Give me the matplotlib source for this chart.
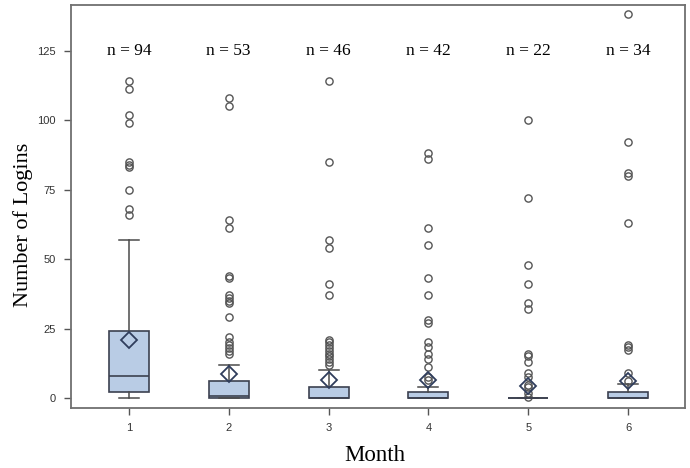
import matplotlib
matplotlib.use("Agg")
import matplotlib.pyplot as plt

months = [1, 2, 3, 4, 5, 6]
n_labels = ["n = 94", "n = 53", "n = 46", "n = 42", "n = 22", "n = 34"]
q1 = [2, 0, 0, 0, 0, 0]
medians = [8, 0.7, 0, 0, 0, 0]
q3 = [24, 6, 4, 2, 0, 2]
whisker_lo = [0, 0, 0, 0, 0, 0]
whisker_hi = [57, 12, 10, 4, 0, 5]
means = [21, 8.7, 6.5, 6.4, 4.4, 6]

fliers_m1 = [114, 111, 102, 99, 85, 84, 83, 75, 68, 66]
fliers_m2 = [108, 105, 64, 61, 44, 43, 37, 36, 35, 34, 29, 22, 20, 19, 18, 17, 16]
fliers_m3 = [114, 85, 57, 54, 41, 37, 21, 20, 19, 18, 17, 16, 15, 14, 13, 12]
fliers_m4 = [88, 86, 61, 55, 43, 37, 28, 27, 20, 18.5, 16, 14, 11, 7.6, 6.5]
fliers_m5 = [100, 72, 48, 41, 34, 32, 16, 15, 13, 9, 7.7, 4.7, 4, 1.8, 0.5]
fliers_m6 = [138, 92, 81, 80, 63, 19, 18.5, 17.3, 9, 6]
fliers = [fliers_m1, fliers_m2, fliers_m3, fliers_m4, fliers_m5, fliers_m6]

stats = []
for i in range(len(months)):
    stats.append(dict(q1=q1[i], med=medians[i], q3=q3[i],
                      whislo=whisker_lo[i], whishi=whisker_hi[i],
                      mean=means[i], fliers=fliers[i]))

fig = plt.figure(figsize=(6.9, 4.68), dpi=100)
ax = fig.add_axes([71/690, 1-408/468, 614/690, 403/468])

edge = "#3c4150"
ax.bxp(stats, positions=months, widths=0.4, capwidths=0.2,
       patch_artist=True, showmeans=True,
       boxprops=dict(facecolor="#b9cce5", edgecolor=edge, linewidth=1.2),
       medianprops=dict(color=edge, linewidth=1.2),
       whiskerprops=dict(color="#4a4a4a", linewidth=1.1),
       capprops=dict(color="#4a4a4a", linewidth=1.1),
       meanprops=dict(marker="D", markerfacecolor="none", markeredgecolor="#2f3d5c",
                      markersize=8, markeredgewidth=1.3),
       flierprops=dict(marker="o", markerfacecolor="none", markeredgecolor="#555555",
                       markersize=5.2, markeredgewidth=1.0))

for m, t in zip(months, n_labels):
    ax.text(m, 125, t, ha="center", va="center", fontsize=12.5,
            family="Liberation Serif", color="black")

ax.set_xlim(0.42, 6.57)
ax.set_ylim(-3.6, 141.4)
ax.set_yticks([0, 25, 50, 75, 100, 125])
ax.set_xticks(months)
ax.set_xticklabels([str(m) for m in months])
for lab in ax.get_xticklabels() + ax.get_yticklabels():
    lab.set_family("Liberation Sans")
    lab.set_fontsize(8)
    lab.set_color("#333333")
ax.tick_params(direction="out", length=5, width=1, color="#555555", pad=6)
for s in ax.spines.values():
    s.set_color("#707070")
    s.set_linewidth(1.3)

ax.set_ylabel("Number of Logins", fontsize=16, family="Liberation Serif")
ax.set_xlabel("Month", fontsize=16.5, family="Liberation Serif")
ax.yaxis.set_label_coords(-0.062, 0.454)
ax.xaxis.set_label_coords(0.495, -0.092)

fig.savefig("out.png", dpi=100)
